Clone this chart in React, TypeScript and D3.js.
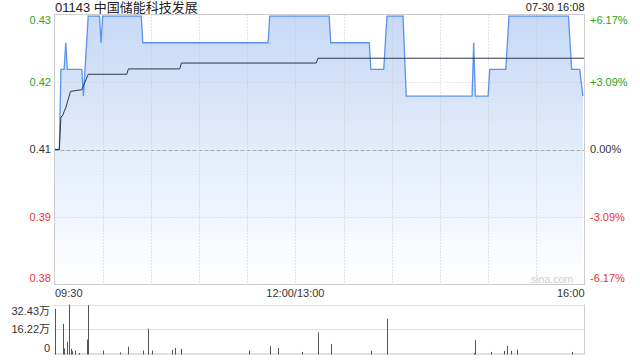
import React from "react";
import * as d3 from "d3";

const title = "01143 中国储能科技发展";
const stamp = "07-30 16:08";
const prevClose = 0.41;

const priceMinutes = [0,3,4,6,7,8,17,18,19,21,28,29,30,54,55,133,134,171,172,196,197,205,207,217,219,260,261,262,270,271,281,282,283,320,322,327,329];
const pricePoints = [0.41,0.41,0.425,0.425,0.43,0.425,0.425,0.42,0.425,0.435,0.435,0.43,0.435,0.435,0.43,0.43,0.435,0.435,0.43,0.43,0.425,0.425,0.435,0.435,0.42,0.42,0.43,0.42,0.42,0.425,0.425,0.43,0.435,0.435,0.425,0.425,0.42];

const avgMinutes = [0,3,4,5,6,7,10,17,21,45,46,78,79,163,164,330];
const avgPrices = [0.41,0.41,0.4161,0.4163,0.4171,0.4178,0.4209,0.4212,0.4241,0.4241,0.4251,0.4251,0.4262,0.4262,0.4271,0.4271];

const volMinutes = [0,5,6,8,9,10,11,13,15,20,21,30,41,46,55,58,61,73,75,79,121,134,139,154,164,172,197,207,261,262,272,280,282,284,288,322];
const volValues = [29.6,19.9,3.9,8.2,32.43,3.7,2.2,2.6,1.0,9.7,32.0,2.6,1.3,5.0,2.6,16.7,2.6,3.0,4.3,3.7,2.6,5.6,4.3,1.7,14.3,6.9,2.4,23.2,1.0,9.5,1.7,2.4,5.6,2.4,3.0,1.7];

const pctTicks = [6.17, 3.09, 0, -3.09, -6.17];
const priceTickLabels = ["0.43", "0.42", "0.41", "0.39", "0.38"];
const pctTickLabels = ["+6.17%", "+3.09%", "0.00%", "-3.09%", "-6.17%"];
const timeTickMinutes = [0, 150, 330];
const timeTickLabels = ["09:30", "12:00/13:00", "16:00"];
const volTicks = [32.43, 16.22, 0];
const volTickLabels = ["32.43万", "16.22万", "0"];

const FONT = "Arial, 'Liberation Sans', 'Noto Sans CJK SC', sans-serif";
const GREEN = "#22a822";
const RED = "#f03030";
const DARK = "#333";

export default function App() {
  const L = 54.5, R = 584.5, T = 14.5, B = 284.5;
  const VT = 304.5, VB = 354.5;
  const x = d3.scaleLinear().domain([0, 330]).range([L, R]);
  const y = d3.scaleLinear().domain([prevClose * (1 - 0.0617), prevClose * (1 + 0.0617)]).range([B, T]);
  const yv = d3.scaleLinear().domain([0, 32.43]).range([VB, VT]);

  const pts = priceMinutes.map((m, i) => [m, pricePoints[i]] as [number, number]);
  const avgPts = avgMinutes.map((m, i) => [m, avgPrices[i]] as [number, number]);
  const line = d3.line<[number, number]>().x(d => x(d[0])).y(d => y(d[1]));
  const area = d3.area<[number, number]>().x(d => x(d[0])).y0(B).y1(d => y(d[1]));

  const gridMinutes = d3.range(30, 330, 30);
  const colorFor = (p: number) => (p > 0 ? GREEN : p < 0 ? RED : DARK);
  const labelY = (i: number, n: number, yy: number) => (i === 0 ? yy + 6 : i === n - 1 ? yy - 6 : yy);

  return (
    <svg width={640} height={360} style={{ position: "absolute", left: 0, top: 0 }} fontFamily={FONT}>
      <defs>
        <linearGradient id="fillg" gradientUnits="userSpaceOnUse" x1={0} y1={T} x2={0} y2={B}>
          <stop offset="0%" stopColor="#c6d9f6" />
          <stop offset="100%" stopColor="#ffffff" />
        </linearGradient>
      </defs>
      <rect x={0} y={0} width={640} height={360} fill="#fff" />
      <path d={area(pts) || ""} fill="url(#fillg)" />
      {pctTicks.map((p, i) => {
        const yy = Math.round(y(prevClose * (1 + p / 100))) + 0.5;
        if (i === 0 || i === pctTicks.length - 1) return null;
        return (
          <line key={"h" + i} x1={L} x2={R} y1={yy} y2={yy}
            stroke={p === 0 ? "#aaa" : "#c8c8c8"} strokeDasharray={p === 0 ? "4,2" : "1,2"} />
        );
      })}
      {gridMinutes.map(m => {
        const xx = Math.round(x(m)) + 0.5;
        return <line key={"v" + m} x1={xx} x2={xx} y1={T} y2={B} stroke="#c8c8c8" strokeDasharray="1,2" />;
      })}
      <path d={line(pts) || ""} fill="none" stroke="#5b92ea" strokeWidth={1.3} />
      <path d={line(avgPts) || ""} fill="none" stroke="#2e3a4a" strokeWidth={1} />
      <rect x={L} y={T} width={R - L} height={B - T} fill="none" stroke="#cccccc" />
      <text x={573} y={283} textAnchor="end" fontSize={10.5} fill="#cfcfcf">sina.com</text>

      {pctTicks.map((p, i) => {
        const yy = labelY(i, pctTicks.length, y(prevClose * (1 + p / 100)));
        return (
          <g key={"t" + i}>
            <text x={51} y={yy} dy="0.35em" textAnchor="end" fontSize={11} fill={colorFor(p)}>{priceTickLabels[i]}</text>
            <text x={590} y={yy} dy="0.35em" textAnchor="start" fontSize={11} fill={colorFor(p)}>{pctTickLabels[i]}</text>
          </g>
        );
      })}

      <text x={L + 0.5} y={12} fontSize={13} fill="#222">{title}</text>
      <text x={R} y={11} textAnchor="end" fontSize={11} fill="#222">{stamp}</text>

      {timeTickMinutes.map((m, i) => (
        <text key={"x" + i} x={x(m) + (i === 0 ? 0.5 : 0)} y={293} dy="0.35em" fontSize={11} fill={DARK}
          textAnchor={i === 0 ? "start" : i === timeTickMinutes.length - 1 ? "end" : "middle"}>{timeTickLabels[i]}</text>
      ))}

      {volTicks.slice(0, 2).map((v, i) => {
        const yy = Math.round(yv(v)) + 0.5;
        return <line key={"vg" + i} x1={L} x2={R} y1={yy} y2={yy} stroke="#c0c0c0" strokeDasharray="1,1" />;
      })}
      <line x1={R} x2={R} y1={VT} y2={VB} stroke="#cccccc" />
      <line x1={L} x2={R} y1={VB - 0.5} y2={VB - 0.5} stroke="#888" strokeDasharray="1,1" />
      {volMinutes.map((m, i) => {
        const top = yv(volValues[i]);
        return <rect key={"b" + i} x={Math.round(x(m))} y={top} width={1} height={VB - top} fill="#555" />;
      })}
      {volTicks.map((v, i) => {
        const yy = i === 0 ? 311.5 : i === 2 ? 348 : yv(v);
        return <text key={"vt" + i} x={50} y={yy} dy="0.35em" textAnchor="end" fontSize={11} fill={DARK}>{volTickLabels[i]}</text>;
      })}
    </svg>
  );
}
